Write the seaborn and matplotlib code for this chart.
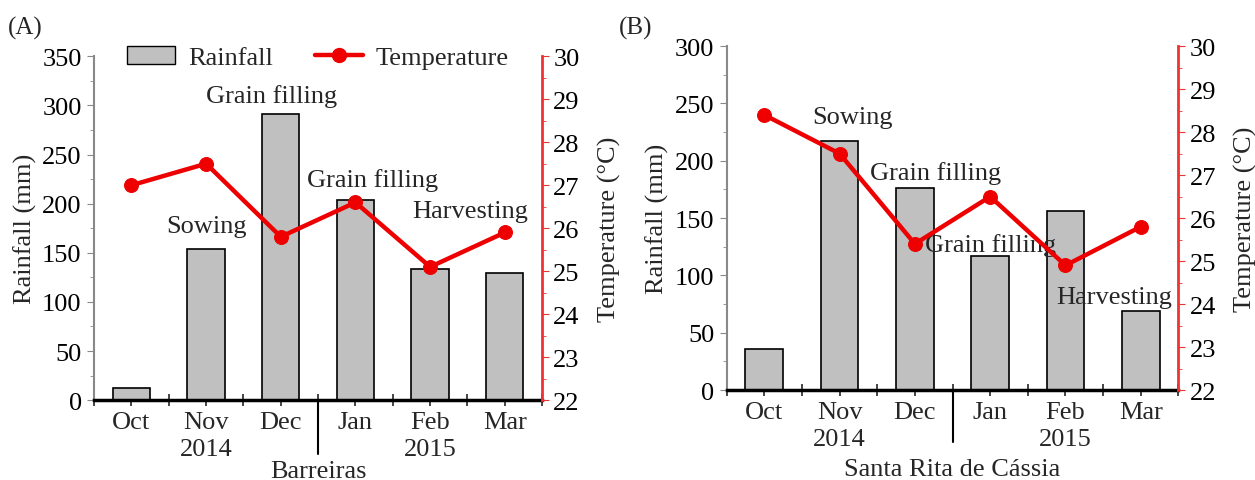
import numpy as np
import pandas as pd
import seaborn as sns
import matplotlib.pyplot as plt
from matplotlib.ticker import MultipleLocator, FixedLocator
from matplotlib.lines import Line2D
from matplotlib.patches import Patch

sns.set_style("ticks")
plt.rcParams['font.family'] = ['Liberation Serif', 'DejaVu Serif']
plt.rcParams['font.size'] = 19

# data
months = ["Oct", "Nov", "Dec", "Jan", "Feb", "Mar"]
rain_a = [12, 154, 291, 204, 133, 129]
temp_a = [27.0, 27.5, 25.8, 26.6, 25.1, 25.9]
rain_b = [36, 217, 176, 117, 156, 69]
temp_b = [28.4, 27.5, 25.4, 26.5, 24.9, 25.8]
stages_a = [("Sowing", 1.0, 177), ("Grain filling", 1.87, 310), ("Grain filling", 3.23, 225), ("Harvesting", 4.53, 193)]
stages_b = [("Sowing", 1.17, 238), ("Grain filling", 2.28, 190), ("Grain filling", 3.0, 127), ("Harvesting", 4.64, 81)]

FS = 19
fig = plt.figure(figsize=(12.55, 4.81), dpi=100)
ax_a = fig.add_axes([0.075, 0.166, 0.357, 0.715])
ax_b = fig.add_axes([0.579, 0.187, 0.360, 0.715])


def below(ax, x, px, txt):
    # text centred px pixels below the x axis
    ax.annotate(txt, xy=(x, 0), xycoords=("data", "axes fraction"),
                xytext=(0, -px), textcoords="offset pixels",
                ha="center", va="center", fontsize=FS, annotation_clip=False)


def panel(ax, rain, temp, ymax, stages, site, tag, site_px, sep_px):
    df = pd.DataFrame({"month": months, "rain": rain, "temp": temp})
    sns.barplot(data=df, x="month", y="rain", ax=ax, color="#c0c0c0",
                saturation=1, edgecolor="black", linewidth=1.2, width=0.5)
    ax2 = ax.twinx()
    sns.lineplot(x=np.arange(len(months)), y=df["temp"], ax=ax2, color="#ee0000",
                 lw=3.2, marker="o", markersize=10, markeredgecolor="#ee0000")
    ax.set_xlim(-0.5, 5.5)
    ax.set_ylim(0, ymax)
    ax2.set_ylim(22, 30)
    ax.set_xlabel("")
    ax.set_ylabel("Rainfall (mm)", fontsize=FS, labelpad=4)
    ax2.set_ylabel("Temperature (°C)", fontsize=FS, labelpad=13)

    ax.yaxis.set_major_locator(MultipleLocator(50))
    ax.yaxis.set_minor_locator(MultipleLocator(25))
    ax2.yaxis.set_major_locator(MultipleLocator(1))
    ax2.yaxis.set_minor_locator(MultipleLocator(0.5))
    ax.xaxis.set_minor_locator(FixedLocator(np.arange(-0.5, 6, 1)))

    ax.spines["top"].set_visible(False)
    ax2.spines["top"].set_visible(False)
    ax.spines["left"].set_color("#888888")
    ax.spines["left"].set_linewidth(1.5)
    ax.spines["bottom"].set_color("black")
    ax.spines["bottom"].set_linewidth(2.5)
    ax.spines["right"].set_visible(False)
    ax2.spines["left"].set_visible(False)
    ax2.spines["bottom"].set_visible(False)
    ax2.spines["right"].set_color("#ee3333")
    ax2.spines["right"].set_linewidth(2)

    ax.tick_params(axis="y", which="both", colors="#888888", labelcolor="black", labelsize=FS)
    ax.tick_params(axis="y", which="major", length=5, pad=4)
    ax.tick_params(axis="y", which="minor", length=3)
    ax.tick_params(axis="x", which="both", direction="inout", length=8, width=1.2,
                   labelsize=FS, pad=4)
    ax2.tick_params(axis="y", which="both", colors="#ee3333", labelcolor="black", labelsize=FS)
    ax2.tick_params(axis="y", which="major", length=5, pad=3)
    ax2.tick_params(axis="y", which="minor", length=3)

    for txt, xpos, ypos in stages:
        ax.text(xpos, ypos, txt, ha="center", va="center", fontsize=FS, zorder=5)

    # year separator and labels
    ax.annotate("", xy=(2.5, 0), xycoords=("data", "axes fraction"),
                xytext=(2.5, 0), textcoords="data", annotation_clip=False)
    trans = ax.get_xaxis_transform()
    ax.plot([2.5, 2.5], [0, -sep_px / ax.bbox.height], transform=trans,
            color="black", lw=1.5, clip_on=False)
    below(ax, 1, 49, "2014")
    below(ax, 4, 49, "2015")
    below(ax, 2.5, site_px, site)
    fig.text(tag[1], 0.94, tag[0], fontsize=FS - 1, ha="left", va="center")
    return ax2


panel(ax_a, rain_a, temp_a, 350, stages_a, "Barreiras", ("(A)", 0.006), 71, 54)
panel(ax_b, rain_b, temp_b, 300, stages_b, "Santa Rita de Cássia", ("(B)", 0.493), 79, 52)

handles = [Patch(facecolor="#c0c0c0", edgecolor="black", label="Rainfall"),
           Line2D([], [], color="#ee0000", lw=3.2, marker="o", markersize=10, label="Temperature")]
ax_a.legend(handles=handles, loc="upper center", bbox_to_anchor=(0.5, 1.1), ncol=2,
            frameon=False, fontsize=FS, handlelength=1.8, handletextpad=0.5,
            columnspacing=1.6)

fig.savefig("out.png", dpi=100)
